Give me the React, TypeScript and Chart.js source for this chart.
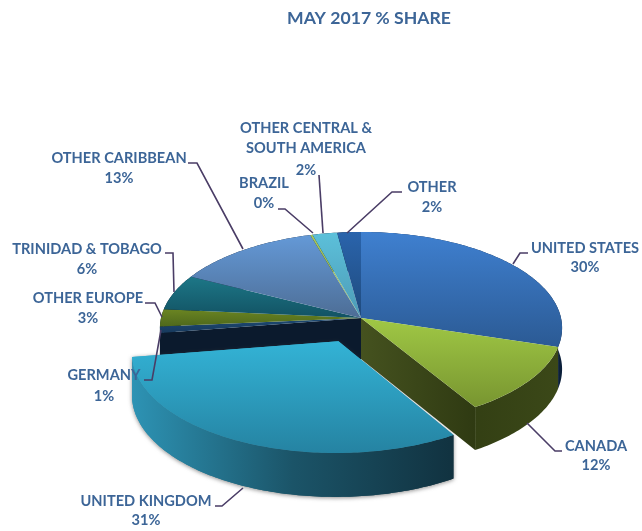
import React, { useEffect, useRef } from "react";
import { Chart, registerables } from "chart.js";

Chart.register(...registerables);

const categories = ["UNITED STATES", "CANADA", "UNITED KINGDOM", "GERMANY", "OTHER EUROPE", "TRINIDAD & TOBAGO", "OTHER CARIBBEAN", "BRAZIL", "OTHER CENTRAL & SOUTH AMERICA", "OTHER"];
const shares = [29.8, 11.5, 31.2, 1.1, 2.9, 6.0, 13.0, 0.2, 2.2, 2.1];
const shareLabels = ["30%", "12%", "31%", "1%", "3%", "6%", "13%", "0%", "2%", "2%"];
const explode = [0, 0, 0.262, 0, 0, 0, 0, 0, 0, 0];
const titleText = "MAY 2017 % SHARE";

// styling of each slice: top gradient [from, to], wall gradient stops
const topColors = [
  ["#3f80d0", "#2b5a94"], ["#a0c845", "#789530"], ["#33b3d6", "#2583a2"], ["#1d4a74", "#17395c"],
  ["#6b8522", "#4e681c"], ["#1d7787", "#125263"], ["#6499d7", "#4d6d95"], ["#a9c85a", "#8fb04a"],
  ["#5cc0da", "#4d9bb6"], ["#2a64ac", "#1f4a7c"],
];
const wallColors = [
  ["#0f2a4e", "#0b1f3a"], ["#414e1c", "#323e13", "#3b4818"], ["#2d93b4", "#1b5468", "#113240"], ["#0b1a2d", "#0b1a2d"],
  ["#0b1a2d", "#0b1a2d"], ["#0b1a2d", "#0b1a2d"], ["#0b1a2d", "#0b1a2d"], ["#0b1a2d", "#0b1a2d"], ["#0b1a2d", "#0b1a2d"], ["#0b1a2d", "#0b1a2d"],
];

// label layout in page pixels: lines of text, line centres, leader polyline
const labelLayout = [
  { x: 585, ys: [248, 267], line: [[513, 264], [520, 253], [528, 253]] },
  { x: 596, ys: [446, 465], line: [[527, 423], [555, 451], [562, 451]] },
  { x: 146, ys: [501, 520], line: [[243, 488], [222, 506], [215, 506]] },
  { x: 104, ys: [375, 396], line: [[161, 330], [152, 380], [144, 380]] },
  { x: 88, ys: [298, 318], line: [[162, 317], [155, 303], [145, 303]] },
  { x: 87, ys: [249, 269], line: [[174, 292], [173, 253], [165, 253]] },
  { x: 119, ys: [158, 178], line: [[243, 249], [197, 163], [188, 163]] },
  { x: 264, ys: [183, 203], line: [[313, 233], [285, 209], [278, 209]] },
  { x: 306, ys: [128, 148, 170], line: [[323, 233], [319, 175]], split: ["OTHER CENTRAL &", "SOUTH AMERICA"] },
  { x: 432, ys: [187, 207], line: [[347, 233], [392, 192], [402, 192]] },
];

const FONT = "Lato";
const TEXT = "#3c6597";
const LEADER = "#4a3d66";
const K = 0.475; // vertical squash
const P = 0.104; // perspective strength
const DEPTH = 41;

type Pt = { x: number; y: number; s: number };

const pie3d = {
  id: "pie3d",
  beforeDatasetDraw(chart: any) {
    const ctx: CanvasRenderingContext2D = chart.ctx;
    const arcs = chart.getDatasetMeta(0).data;
    const project = (u: number, v: number, a: any): Pt => {
      const s = 1 / (1 - P * v);
      return { x: a.x + a.outerRadius * u * s, y: a.y + a.outerRadius * K * v * s, s };
    };
    const slices = arcs.map((a: any, i: number) => {
      const t0 = a.startAngle + Math.PI / 2;
      const t1 = a.endAngle + Math.PI / 2;
      const m = (t0 + t1) / 2;
      const du = explode[i] * Math.sin(m);
      const dv = -explode[i] * Math.cos(m);
      const n = Math.max(2, Math.ceil(((t1 - t0) * 180) / Math.PI));
      const rim: Pt[] = [];
      for (let j = 0; j <= n; j++) {
        const t = t0 + ((t1 - t0) * j) / n;
        rim.push(project(Math.sin(t) + du, -Math.cos(t) + dv, a));
      }
      return { i, rim, apex: project(du, dv, a) };
    });
    const path = (pts: { x: number; y: number }[]) => {
      ctx.beginPath();
      pts.forEach((p, j) => (j ? ctx.lineTo(p.x, p.y) : ctx.moveTo(p.x, p.y)));
      ctx.closePath();
    };
    const down = (p: Pt) => ({ x: p.x, y: p.y + DEPTH * Math.sqrt(p.s) });
    const hGrad = (stops: string[], x0: number, x1: number) => {
      const g = ctx.createLinearGradient(x0, 0, x1, 0);
      stops.forEach((c, j) => g.addColorStop(j / (stops.length - 1), c));
      return g;
    };
    const drawWalls = (sl: any) => {
      const colors = wallColors[sl.i];
      const xs = [...sl.rim.map((p: Pt) => p.x), sl.apex.x];
      const x0 = Math.min(...xs);
      const x1 = Math.max(...xs);
      path([...sl.rim, ...[...sl.rim].reverse().map(down)]);
      ctx.fillStyle = hGrad(colors, x0, Math.max(x1, x0 + 1));
      ctx.fill();
      const prev = (sl.i + slices.length - 1) % slices.length;
      const next = (sl.i + 1) % slices.length;
      if (explode[prev] !== explode[sl.i] && !explode[sl.i]) {
        const e = sl.rim[0];
        path([sl.apex, e, down(e), down(sl.apex)]);
        ctx.fillStyle = hGrad(colors, e.x, sl.apex.x);
        ctx.fill();
      }
      if (explode[next] !== explode[sl.i] && !explode[sl.i]) {
        const e = sl.rim[sl.rim.length - 1];
        path([sl.apex, e, down(e), down(sl.apex)]);
        ctx.fillStyle = hGrad(["#45521f", "#2f3a12"], sl.apex.x, e.x);
        ctx.fill();
      }
    };
    const drawTop = (sl: any) => {
      const pts = [sl.apex, ...sl.rim];
      const ys = pts.map((p: Pt) => p.y);
      const g = ctx.createLinearGradient(0, Math.min(...ys), 0, Math.max(...ys));
      g.addColorStop(0, topColors[sl.i][0]);
      g.addColorStop(1, topColors[sl.i][1]);
      path(pts);
      ctx.fillStyle = g;
      ctx.fill();
    };
    const still = slices.filter((s: any) => !explode[s.i]);
    const moved = slices.filter((s: any) => explode[s.i]);
    ctx.save();
    still.forEach(drawWalls);
    still.forEach(drawTop);
    moved.forEach((sl: any) => {
      ctx.save();
      ctx.shadowColor = "rgba(60,60,60,0.6)";
      ctx.shadowBlur = 4;
      ctx.shadowOffsetY = 1;
      drawWalls(sl);
      drawTop(sl);
      ctx.restore();
      drawWalls(sl);
      drawTop(sl);
    });
    ctx.restore();
    return false;
  },
  afterDraw(chart: any) {
    const ctx: CanvasRenderingContext2D = chart.ctx;
    ctx.save();
    ctx.textAlign = "center";
    ctx.textBaseline = "middle";
    ctx.fillStyle = TEXT;
    ctx.font = `bold 17.6px ${FONT}`;
    ctx.fillText(titleText, 369, 18);
    ctx.font = `bold 14.6px ${FONT}`;
    labelLayout.forEach((l: any, i) => {
      const lines = [...(l.split ?? [chart.data.labels[i]]), shareLabels[i]];
      lines.forEach((t: string, j: number) => ctx.fillText(t, l.x, l.ys[j]));
      ctx.beginPath();
      l.line.forEach((p: number[], j: number) => (j ? ctx.lineTo(p[0], p[1]) : ctx.moveTo(p[0], p[1])));
      ctx.strokeStyle = LEADER;
      ctx.lineWidth = 1.6;
      ctx.stroke();
    });
    ctx.restore();
  },
};

export default function App() {
  const ref = useRef<HTMLCanvasElement>(null);
  useEffect(() => {
    const chart = new Chart(ref.current!, {
      type: "pie",
      data: {
        labels: categories,
        datasets: [{ data: shares, backgroundColor: topColors.map((c) => c[0]), borderWidth: 0 }],
      },
      options: {
        animation: false,
        responsive: false,
        events: [],
        layout: { padding: { left: 161, right: 81, top: 118, bottom: 13 } },
        plugins: { legend: { display: false }, title: { display: false }, tooltip: { enabled: false } },
      },
      plugins: [pie3d],
    } as any);
    return () => chart.destroy();
  }, []);
  return <canvas ref={ref} width={642} height={531} style={{ position: "absolute", left: 0, top: 0, display: "block", background: "#fff" }} />;
}
